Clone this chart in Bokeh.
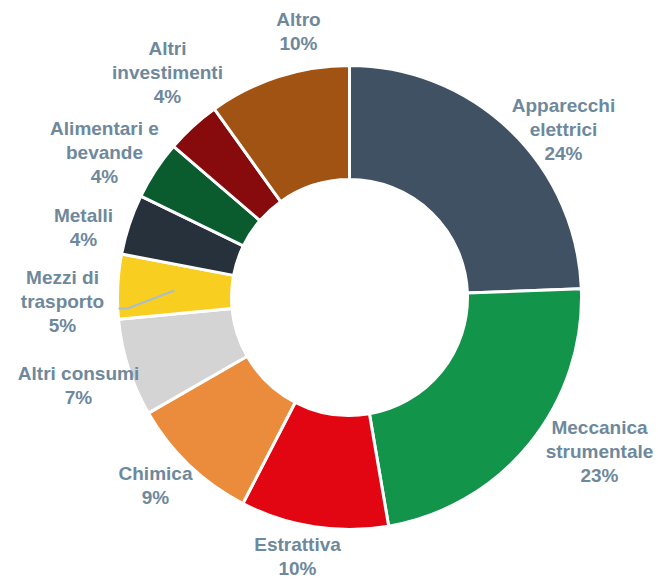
import numpy as np
import pandas as pd
from bokeh.plotting import figure
from bokeh.models import Range1d, ColumnDataSource
from bokeh.core.properties import value
from bokeh.embed import file_html
from bokeh.resources import INLINE

# ---- data ----
categories = ["Apparecchi elettrici", "Meccanica strumentale", "Estrattiva", "Chimica",
              "Altri consumi", "Mezzi di trasporto", "Metalli", "Alimentari e bevande",
              "Altri investimenti", "Altro"]
values = [24.4, 22.9, 10.3, 9.1, 6.8, 4.5, 4.2, 4.1, 3.8, 9.9]
pct_labels = ["24%", "23%", "10%", "9%", "7%", "5%", "4%", "4%", "4%", "10%"]
label_lines = [["Apparecchi", "elettrici"], ["Meccanica", "strumentale"], ["Estrattiva"],
               ["Chimica"], ["Altri consumi"], ["Mezzi di", "trasporto"], ["Metalli"],
               ["Alimentari e", "bevande"], ["Altri", "investimenti"], ["Altro"]]
colors = ["#3F5162", "#12944B", "#E20613", "#EA8C3B", "#D4D4D4",
          "#F8CE21", "#27313C", "#0A5C2E", "#870A0C", "#A05312"]

# ---- layout (picture pixel coordinates) ----
W, H = 658, 580
MARGIN = 0
CENTER = (349, 297)
R_OUT, R_IN = 232, 118
label_anchor = [(563, 105), (599, 427), (297, 544), (155, 473), (78, 373),
                (62, 277), (83, 215), (104, 128), (167, 48), (298, 19)]
LINE_H = 24

def px(x):
    return x - MARGIN

def py(y):
    return H - (y - MARGIN)

df = pd.DataFrame({"cat": categories, "val": values, "color": colors})
frac = df["val"] / df["val"].sum()
cum = frac.cumsum()
df["start"] = np.pi / 2 - 2 * np.pi * (cum - frac)
df["end"] = np.pi / 2 - 2 * np.pi * cum
src = ColumnDataSource(df)

p = figure(width=W, height=H, x_range=Range1d(0, W), y_range=Range1d(0, H),
           output_backend="svg", toolbar_location=None, min_border=0)
p.axis.visible = False
p.grid.visible = False
p.outline_line_color = None
p.background_fill_color = "white"

p.annular_wedge(x=px(CENTER[0]), y=py(CENTER[1]), inner_radius=R_IN, outer_radius=R_OUT,
                start_angle="start", end_angle="end", direction="clock",
                fill_color="color", line_color="white", line_width=3, source=src)

# leader line inside "Mezzi di trasporto"
p.line(x=[px(118), px(127), px(174)], y=[py(308), py(308), py(290)],
       line_color="#A9BECC", line_width=2)

tx, ty, tt = [], [], []
for lines, pct, (ax, ay) in zip(label_lines, pct_labels, label_anchor):
    for i, t in enumerate(lines + [pct]):
        tx.append(px(ax))
        ty.append(py(ay + i * LINE_H))
        tt.append(t)

p.text(x=tx, y=ty, text=tt, text_align="center", text_baseline="middle",
       text_font=value("Liberation Sans"), text_font_style="bold",
       text_font_size="19px", text_color="#6E889C")

open("out.html", "w").write(file_html(p, INLINE))
